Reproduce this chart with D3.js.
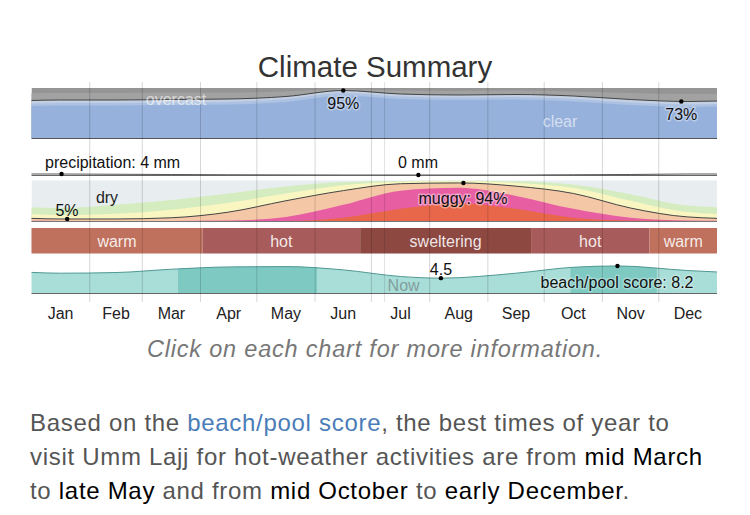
<!DOCTYPE html>
<html><head><meta charset="utf-8">
<script src="https://cdn.jsdelivr.net/npm/d3@7"></script>
<style>
body{margin:0;background:#fff;}
svg{display:block;font-family:"Liberation Sans",Arial,Helvetica,sans-serif;}
</style></head><body>
<svg id="c" width="750" height="515"></svg>
<script>
// ---------- DATA ----------
const monthNames = ["Jan","Feb","Mar","Apr","May","Jun","Jul","Aug","Sep","Oct","Nov","Dec"];
const monthStarts = [0,31,59,90,120,151,181,212,243,273,304,334,365];
const monthMid = [15.5,45,74.5,105,135.5,166,196.5,227.5,258,288.5,319,349.5];

// cloud cover, cumulative % from bottom
const cloudClear        = [65,65,66,67,72,85,78,76,77,73,66,62];
const cloudMostlyClear  = [70,70,71,72,78,90,83,81,82,78,71,67];
const cloudPartly       = [76,76,77,78,83,95,88,86,87,84,77,73]; // black line
const cloudMostlyCloudy = [90,90,91,91,93,98,95,94,95,93,90,88];

// precipitation (mm)
const precipMm = [4,3,2,1,0.5,0,0,0,0,1,2,4];

// humidity comfort, cumulative % from bottom
const humMiserable   = [0,0,0,0,0,8,30,44,30,8,1,0];
const humOppressive  = [0,0,0,1,10,40,75,82,62,30,8,1];
const humMuggy       = [5,5,8,22,50,75,92,94,86,68,32,10]; // black line
const humHumid       = [15,18,28,45,68,88,97,98,94,82,50,22];
const humComfortable = [32,40,52,68,85,96,99,99.5,98,90,66,38];

// temperature categories
const tempLabels = ["warm","hot","sweltering","hot","warm"];
const tempStarts = [0,91,175,266,329];
const tempEnds   = [91,175,266,329,365];

// beach/pool score
const beachDays  = [15.5,45,74.5,105,135.5,166,196.5,218,258,288.5,312,349.5];
const beachScore = [6.0,6.2,7.2,7.9,8.0,7.0,5.0,4.5,6.0,7.8,8.2,6.8];
const bestStarts = [78,287];
const bestEnds   = [152,333];

const nowDay = 188;

// annotated points
const cloudMarks  = [{d:166,v:95,t:"95%"},{d:346,v:73,t:"73%"}];
const precipMarks = [{d:16,v:4,t:"precipitation: 4 mm"},{d:206,v:0,t:"0 mm"}];
const humMarks    = [{d:19,v:5,t:"5%"},{d:230,v:94,t:"muggy: 94%"}];
const beachMarks  = [{d:218,v:4.5,t:"4.5"},{d:312,v:8.2,t:"beach/pool score: 8.2"}];

// ---------- DRAW ----------
const svg = d3.select("#c");
const x = d3.scaleLinear().domain([0,365]).range([31.5,717]);
const yCloud  = d3.scaleLinear().domain([0,100]).range([138,88]);
const yPrecip = d3.scaleLinear().domain([0,150]).range([175,138]);
const yHum    = d3.scaleLinear().domain([0,100]).range([221,180.5]);
const yBeach  = d3.scaleLinear().domain([0,10]).range([293,260]);
const tempTop = 228, tempBot = 253.5;

svg.append("defs").append("clipPath").attr("id","clipX")
  .append("rect").attr("x",x(0)).attr("y",0).attr("width",x(365)-x(0)).attr("height",515);

function pts(days, vals){
  const n = days.length;
  return [[days[n-1]-365, vals[n-1]], ...days.map((d,i)=>[d,vals[i]]), [days[0]+365, vals[0]]];
}
const curve = d3.curveMonotoneX;
function areaFor(y, base){ return d3.area().curve(curve).x(p=>x(p[0])).y0(y(base)).y1(p=>y(p[1])); }
function lineFor(y){ return d3.line().curve(curve).x(p=>x(p[0])).y(p=>y(p[1])); }

const g = svg.append("g").attr("clip-path","url(#clipX)");

// title
svg.append("text").attr("x",375).attr("y",77).attr("text-anchor","middle")
  .attr("font-size",29.5).attr("fill","#333").text("Climate Summary");

// cloud panel
g.append("rect").attr("x",x(0)).attr("y",yCloud(100)).attr("width",x(365)-x(0)).attr("height",yCloud(0)-yCloud(100)).attr("fill","#959595");
[[cloudMostlyCloudy,"#a2a2a2"],[cloudPartly,"#c3cfe2"],[cloudMostlyClear,"#adc2e2"],[cloudClear,"#96b1dc"]].forEach(([v,c])=>{
  g.append("path").attr("d",areaFor(yCloud,0)(pts(monthMid,v))).attr("fill",c);
});
g.append("path").attr("d",lineFor(yCloud)(pts(monthMid,cloudPartly))).attr("fill","none").attr("stroke","#444").attr("stroke-width",1);
svg.append("line").attr("x1",x(0)).attr("x2",x(365)).attr("y1",138.5).attr("y2",138.5).attr("stroke","#555");

// precipitation panel
g.append("path").attr("d",lineFor(yPrecip)(pts(monthMid,precipMm))).attr("fill","none").attr("stroke","#555").attr("stroke-width",1);
svg.append("line").attr("x1",x(0)).attr("x2",x(365)).attr("y1",175.5).attr("y2",175.5).attr("stroke","#666");

// humidity panel
g.append("rect").attr("x",x(0)).attr("y",yHum(100)).attr("width",x(365)-x(0)).attr("height",yHum(0)-yHum(100)).attr("fill","#e8eef0");
[[humComfortable,"#d5ecc1"],[humHumid,"#f9f6c2"],[humMuggy,"#f4c7a6"],[humOppressive,"#e75ea2"],[humMiserable,"#e8674a"]].forEach(([v,c])=>{
  g.append("path").attr("d",areaFor(yHum,0)(pts(monthMid,v))).attr("fill",c);
});
g.append("path").attr("d",lineFor(yHum)(pts(monthMid,humMuggy))).attr("fill","none").attr("stroke","#444").attr("stroke-width",1);
svg.append("line").attr("x1",x(0)).attr("x2",x(365)).attr("y1",221.5).attr("y2",221.5).attr("stroke","#777");

// temperature band
const tempColor = {warm:"#c0715d", hot:"#a75b5a", sweltering:"#8d4842"};
tempLabels.forEach((l,i)=>{
  svg.append("rect").attr("x",x(tempStarts[i])).attr("y",tempTop).attr("width",x(tempEnds[i])-x(tempStarts[i])).attr("height",tempBot-tempTop).attr("fill",tempColor[l]);
  svg.append("text").attr("x",(x(tempStarts[i])+x(tempEnds[i]))/2).attr("y",246.5).attr("text-anchor","middle")
    .attr("font-size",16).attr("fill","rgba(255,255,255,0.88)").text(l);
});

// beach panel
const beachPts = pts(beachDays,beachScore);
g.append("path").attr("d",areaFor(yBeach,0)(beachPts)).attr("fill","#a9ddd8");
const defs = svg.select("defs");
const bc = defs.append("clipPath").attr("id","clipBest");
bestStarts.forEach((s,i)=>bc.append("rect").attr("x",x(s)).attr("y",250).attr("width",x(bestEnds[i])-x(s)).attr("height",50));
g.append("g").attr("clip-path","url(#clipBest)").append("path").attr("d",areaFor(yBeach,0)(beachPts)).attr("fill","#7ecac3");
g.append("path").attr("d",lineFor(yBeach)(beachPts)).attr("fill","none").attr("stroke","#4f9893").attr("stroke-width",1);
svg.append("line").attr("x1",x(0)).attr("x2",x(365)).attr("y1",293.5).attr("y2",293.5).attr("stroke","#666");
svg.append("text").attr("x",x(nowDay)+3).attr("y",291).attr("font-size",16).attr("fill","rgba(110,130,130,0.7)").text("Now");

// vertical month lines
monthStarts.slice(1,12).forEach(d=>{
  svg.append("line").attr("x1",x(d)).attr("x2",x(d)).attr("y1",82).attr("y2",302)
    .attr("stroke","#000").attr("stroke-opacity",0.16).attr("stroke-width",1);
});
svg.append("line").attr("x1",x(nowDay)).attr("x2",x(nowDay)).attr("y1",82).attr("y2",302)
  .attr("stroke","#000").attr("stroke-opacity",0.12);

// panel labels
function lab(t,xx,yy,fill,anchor){
  return svg.append("text").attr("x",xx).attr("y",yy).attr("font-size",16).attr("fill",fill)
    .attr("text-anchor",anchor||"middle").text(t);
}
lab("overcast",176,105,"rgba(255,255,255,0.6)");
lab("clear",560,127,"rgba(255,255,255,0.6)");
lab("dry",107,203,"#222");

function marks(arr,y){
  arr.forEach(m=>{
    svg.append("circle").attr("cx",x(m.d)).attr("cy",y(m.v)).attr("r",2.2).attr("fill","#000");
  });
}
marks(cloudMarks,yCloud); marks(precipMarks,yPrecip); marks(humMarks,yHum); marks(beachMarks,yBeach);

function halo(sel,c){ sel.attr("stroke",c).attr("stroke-width",3).attr("paint-order","stroke").attr("stroke-linejoin","round"); }
halo(lab(cloudMarks[0].t,x(cloudMarks[0].d),109,"#111"),"rgba(255,255,255,0.35)");
halo(lab(cloudMarks[1].t,x(cloudMarks[1].d),120,"#111"),"rgba(255,255,255,0.35)");
lab(precipMarks[0].t,45,168,"#111","start");
lab(precipMarks[1].t,418,168,"#111");
lab(humMarks[0].t,67,215.5,"#111");
halo(lab(humMarks[1].t,463,203.5,"#111"),"rgba(255,255,255,0.4)");
lab(beachMarks[0].t,x(beachMarks[0].d),275,"#111");
halo(lab(beachMarks[1].t,617,288,"#111"),"rgba(255,255,255,0.3)");

// month labels
monthNames.forEach((m,i)=>{
  svg.append("text").attr("x",x(monthMid[i])).attr("y",319).attr("text-anchor","middle")
    .attr("font-size",16).attr("fill","#222").text(m);
});

// caption
svg.append("text").attr("x",375).attr("y",357).attr("text-anchor","middle").attr("font-size",23.5)
  .attr("letter-spacing",0.8).attr("font-style","italic").attr("fill","#777").text("Click on each chart for more information.");

// paragraph
const para = [
  [["Based on the ","#555"],["beach/pool score","#4a7db8"],[", the best times of year to","#555"]],
  [["visit Umm Lajj for hot-weather activities are from ","#555"],["mid March","#000"]],
  [["to ","#555"],["late May","#000"],[" and from ","#555"],["mid October","#000"],[" to ","#555"],["early December","#000"],[".","#555"]]
];
const paraY = [431,465,499];
para.forEach((line,i)=>{
  const t = svg.append("text").attr("x",30).attr("y",paraY[i]).attr("font-size",24).attr("letter-spacing",0.7);
  line.forEach(([s,c])=>t.append("tspan").attr("fill",c).text(s));
});
</script>
</body></html>
